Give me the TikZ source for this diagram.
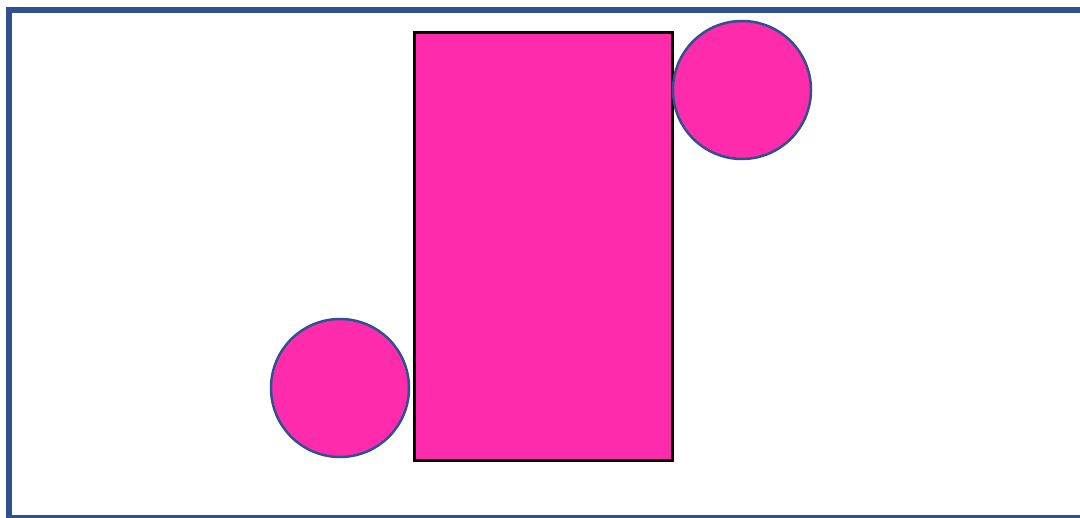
\documentclass[tikz,border=0pt]{standalone}
\usepackage{xcolor}
\usetikzlibrary{calc}
\definecolor{framebl}{HTML}{2F528F}
\definecolor{hotpink}{HTML}{FF2BAD}
\tikzset{
  pinkblock/.style={draw=black, line width=3pt, fill=hotpink, inner sep=0pt,
    minimum width=258pt, minimum height=428pt},
  pinkball/.style={circle, draw=framebl, line width=2.5pt, fill=hotpink, inner sep=0pt,
    minimum size=138pt}
}
\begin{document}
\begin{tikzpicture}[x=1pt,y=-1pt]
\useasboundingbox (0,0) rectangle (1080,518);
%\draw (0,0) rectangle (1080,518);
\begin{scope}
\clip (0,0) rectangle (1080,518);
\draw[framebl, line width=6pt] (9,10) rectangle (1083,518);
\end{scope}

\node[pinkblock] (block) at (543,247) {};
\node[pinkball] (ballA) at (340,388) {};
\node[pinkball] (ballB) at (742,90) {};
\end{tikzpicture}
\end{document}
